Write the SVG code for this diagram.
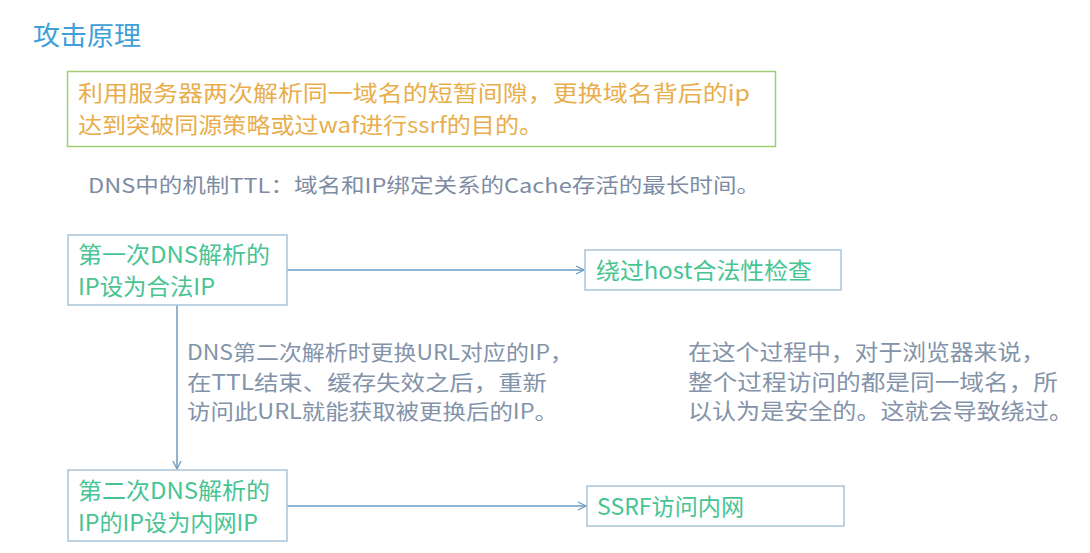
<svg xmlns="http://www.w3.org/2000/svg" width="1090" height="553" viewBox="0 0 1090 553">
<style>
text{font-family:"Noto Sans CJK SC","Noto Sans",sans-serif;}
.title{font-size:26px;fill:#3f9fd6;}
.intro{font-size:22px;fill:#e8ae4c;}
.note{font-size:20px;fill:#7d8ca3;}
.node{fill:#ffffff;stroke:#a9c4d9;stroke-width:1.5;}
.nt{font-size:23px;fill:#48c493;}
.mid{font-size:21px;fill:#8393aa;}
.rt{font-size:22px;fill:#8393aa;}
.conn{stroke:#6d9cc2;stroke-width:1.5;fill:none;}
</style>
<defs>
<marker id="arr" viewBox="0 0 10 10" refX="9" refY="5" markerWidth="10" markerHeight="10" markerUnits="userSpaceOnUse" orient="auto">
<path d="M1,1 L9,5 L1,9" fill="none" stroke="#6d9cc2" stroke-width="1.3"/>
</marker>
</defs>
<rect width="1090" height="553" fill="#ffffff"/>
<text class="title" x="33" y="45" textLength="108" lengthAdjust="spacingAndGlyphs">攻击原理</text>
<g id="intro">
<rect x="67.5" y="71.5" width="708" height="75" fill="#ffffff" stroke="#9fcd72" stroke-width="1.5"/>
<text class="intro" x="78" y="101" textLength="672" lengthAdjust="spacingAndGlyphs">利用服务器两次解析同一域名的短暂间隙，更换域名背后的ip</text>
<text class="intro" x="78" y="133" textLength="465" lengthAdjust="spacingAndGlyphs">达到突破同源策略或过waf进行ssrf的目的。</text>
</g>
<text class="note" x="88" y="193" textLength="672" lengthAdjust="spacingAndGlyphs">DNS中的机制TTL：域名和IP绑定关系的Cache存活的最长时间。</text>
<g id="connectors">
<line class="conn" x1="287" y1="270" x2="584" y2="270" marker-end="url(#arr)"/>
<line class="conn" x1="177" y1="305" x2="177" y2="469" marker-end="url(#arr)"/>
<line class="conn" x1="287" y1="506" x2="586" y2="506" marker-end="url(#arr)"/>
</g>
<g id="nodeA">
<rect class="node" x="68" y="235" width="219" height="70"/>
<text class="nt" x="78" y="263" textLength="192" lengthAdjust="spacingAndGlyphs">第一次DNS解析的</text>
<text class="nt" x="78" y="295" textLength="137" lengthAdjust="spacingAndGlyphs">IP设为合法IP</text>
</g>
<g id="nodeB">
<rect class="node" x="585" y="250" width="256" height="40"/>
<text class="nt" x="596" y="279" textLength="216" lengthAdjust="spacingAndGlyphs">绕过host合法性检查</text>
</g>
<g id="nodeC">
<rect class="node" x="68" y="470" width="219" height="71"/>
<text class="nt" x="78" y="499" textLength="192" lengthAdjust="spacingAndGlyphs">第二次DNS解析的</text>
<text class="nt" x="78" y="531" textLength="180" lengthAdjust="spacingAndGlyphs">IP的IP设为内网IP</text>
</g>
<g id="nodeD">
<rect class="node" x="587" y="486" width="257" height="40"/>
<text class="nt" x="597" y="515" textLength="147" lengthAdjust="spacingAndGlyphs">SSRF访问内网</text>
</g>
<g id="midtext">
<text class="mid" x="187" y="360" textLength="386" lengthAdjust="spacingAndGlyphs">DNS第二次解析时更换URL对应的IP，</text>
<text class="mid" x="187" y="390" textLength="360" lengthAdjust="spacingAndGlyphs">在TTL结束、缓存失效之后，重新</text>
<text class="mid" x="187" y="419" textLength="371" lengthAdjust="spacingAndGlyphs">访问此URL就能获取被更换后的IP。</text>
</g>
<g id="righttext">
<text class="rt" x="688" y="360" textLength="357" lengthAdjust="spacingAndGlyphs">在这个过程中，对于浏览器来说，</text>
<text class="rt" x="688" y="390" textLength="370" lengthAdjust="spacingAndGlyphs">整个过程访问的都是同一域名，所</text>
<text class="rt" x="688" y="419" textLength="385" lengthAdjust="spacingAndGlyphs">以认为是安全的。这就会导致绕过。</text>
</g>
</svg>
